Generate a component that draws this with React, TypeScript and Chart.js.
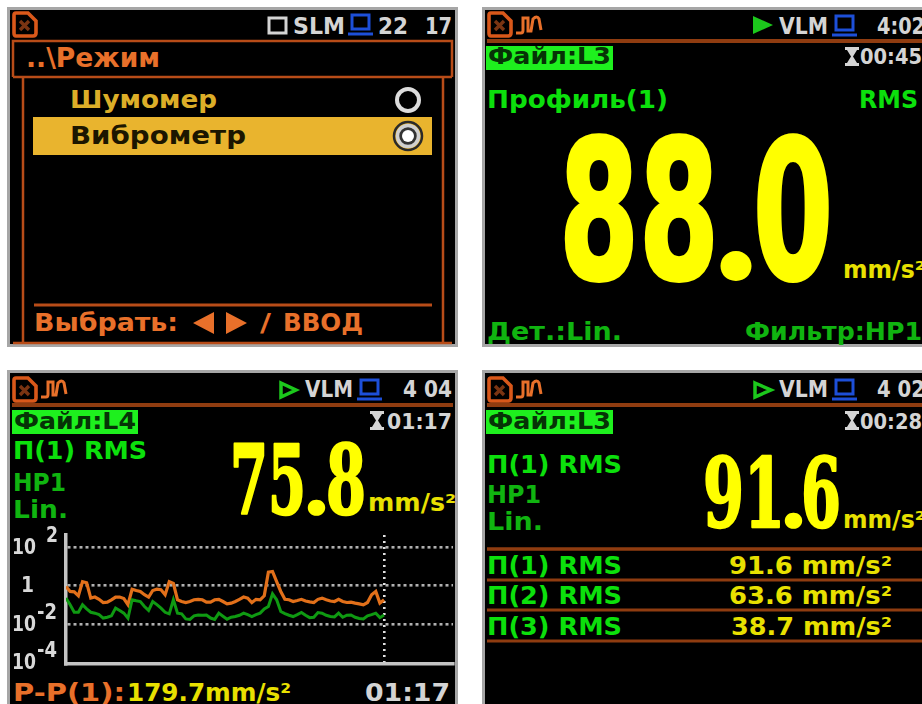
import React, { useEffect, useRef } from "react";
import { Chart, registerables } from "chart.js";

Chart.register(...registerables);

const W = 922;
const H = 704;

// Trend: one sample per second, mm/s²
const seconds = Array.from({ length: 78 }, (_, i) => i);
const peakValues = [
  0.89, 0.49, 0.47, 0.29, 1.6, 1.4, 0.22, 0.25, 0.19, 0.13, 0.135, 0.18, 0.25, 0.25, 0.21, 0.1,
  0.64, 0.55, 0.49, 0.33, 0.25, 0.55, 0.64, 0.6, 0.33, 1.6, 1.3, 0.18, 0.146, 0.13, 0.146, 0.18,
  0.19, 0.18, 0.135, 0.135, 0.18, 0.19, 0.146, 0.11, 0.12, 0.146, 0.19, 0.25, 0.22, 0.13, 0.19, 0.18,
  0.29, 5.0, 5.4, 1.6, 0.49, 0.19, 0.18, 0.146, 0.165, 0.19, 0.155, 0.14, 0.13, 0.19, 0.22, 0.18,
  0.155, 0.146, 0.19, 0.146, 0.13, 0.135, 0.12, 0.11, 0.098, 0.13, 0.33, 0.49, 0.12, 0.18,
];
const rmsValues = [
  0.22, 0.098, 0.04, 0.04, 0.1, 0.06, 0.04, 0.036, 0.03, 0.02, 0.022, 0.026, 0.066, 0.05, 0.036, 0.0196,
  0.18, 0.16, 0.146, 0.08, 0.05, 0.146, 0.1, 0.066, 0.04, 0.033, 0.18, 0.036, 0.033, 0.018, 0.017, 0.026,
  0.029, 0.028, 0.029, 0.02, 0.017, 0.036, 0.025, 0.0175, 0.022, 0.024, 0.028, 0.036, 0.03, 0.024, 0.03, 0.036,
  0.06, 0.08, 0.37, 0.18, 0.044, 0.034, 0.028, 0.024, 0.03, 0.039, 0.028, 0.021, 0.022, 0.039, 0.036, 0.028,
  0.024, 0.023, 0.036, 0.022, 0.028, 0.029, 0.022, 0.019, 0.018, 0.026, 0.03, 0.036, 0.021, 0.029,
];
const tickValues = [100, 1, 0.01, 0.0001];
const tickBases = ["10", "1", "10", "10"];
const tickExponents = ["2", "", "-2", "-4"];
const cursorSecond = 77;

const ORANGE = "#e8702a";
const BROWN = "#8f3c10";
const GREEN = "#0ce00c";
const DIMGREEN = "#10b410";
const YELLOW = "#ffff00";
const SOFTYELLOW = "#e8e000";
const GREY = "#d4d4d4";
const BLUE = "#1d4fd8";

type Label = [string, number, number, number, number, string];
// text, left, right, baseline, font size, colour
const labels: Label[] = [
  ["SLM", 293, 345, 34, 23, GREY],
  ["22", 378, 408, 34, 23, GREY],
  ["17", 425, 452, 34, 23, GREY],
  ["..\\Режим", 26, 160, 67, 26, ORANGE],
  ["Шумомер", 70, 217, 108, 25, "#dcae28"],
  ["Виброметр", 70, 246, 144, 25, "#1c1600"],
  ["Выбрать:", 34, 178, 331, 25, ORANGE],
  ["/", 260, 271, 331, 25, ORANGE],
  ["ВВОД", 283, 363, 331, 25, ORANGE],

  ["VLM", 779, 828, 34, 23, GREY],
  ["4:02", 877, 925, 34, 23, GREY],
  ["Файл:L3", 488, 611, 64, 23, "#063306"],
  ["00:45", 860, 922, 64, 22, GREY],
  ["Профиль(1)", 487, 668, 108, 25, GREEN],
  ["RMS", 859, 918, 108, 25, GREEN],
  ["mm/s²", 843, 925, 278, 24, SOFTYELLOW],
  ["Дет.:Lin.", 487, 622, 340, 25, DIMGREEN],
  ["Фильтр:HP1", 745, 922, 340, 25, DIMGREEN],

  ["VLM", 305, 353, 397, 23, GREY],
  ["4 04", 403, 452, 397, 23, GREY],
  ["Файл:L4", 14, 136, 429, 23, "#063306"],
  ["01:17", 387, 452, 429, 22, GREY],
  ["П(1) RMS", 13, 147, 459, 25, GREEN],
  ["HP1", 13, 66, 491, 25, DIMGREEN],
  ["Lin.", 13, 68, 518, 25, DIMGREEN],
  ["mm/s²", 368, 456, 511, 24, SOFTYELLOW],
  ["P-P(1):", 13, 125, 701, 25, ORANGE],
  ["179.7mm/s²", 127, 291, 701, 25, SOFTYELLOW],
  ["01:17", 365, 450, 701, 25, GREY],

  ["VLM", 779, 828, 397, 23, GREY],
  ["4 02", 877, 925, 397, 23, GREY],
  ["Файл:L3", 488, 611, 429, 23, "#063306"],
  ["00:28", 860, 922, 429, 22, GREY],
  ["П(1) RMS", 487, 622, 473, 25, GREEN],
  ["HP1", 487, 541, 503, 25, DIMGREEN],
  ["Lin.", 487, 543, 530, 25, DIMGREEN],
  ["mm/s²", 843, 925, 528, 24, SOFTYELLOW],
  ["П(1) RMS", 487, 622, 574, 25, GREEN],
  ["91.6 mm/s²", 729, 892, 574, 25, SOFTYELLOW],
  ["П(2) RMS", 487, 622, 604, 25, GREEN],
  ["63.6 mm/s²", 729, 892, 604, 25, SOFTYELLOW],
  ["П(3) RMS", 487, 622, 635, 25, GREEN],
  ["38.7 mm/s²", 731, 892, 635, 25, SOFTYELLOW],
];

// whole part, decimal part, then spans: whole left/right, dot left/right, decimal left/right,
// baseline, digit size, dot size, outline, family
type BigValue = [string, string, number, number, number, number, number, number, number, number, number, number, string];
const bigValues: BigValue[] = [
  ["88", "0", 559, 719, 715, 757, 753, 833, 278, 193, 172, 4, "DejaVu Sans"],
  ["75", "8", 230, 306, 305, 328, 326, 366, 514, 96, 90, 2.5, "DejaVu Serif"],
  ["91", "6", 703, 785, 782, 805, 801, 841, 527, 96, 90, 2.5, "DejaVu Serif"],
];

function SdIcon({ x, y }: { x: number; y: number }) {
  return (
    <g transform={`translate(${x} ${y})`} fill="none" stroke="#d9581a">
      <path d="M3 1 H15 L23 9 V21 Q23 24 20 24 H3 Q1 24 1 21 V3 Q1 1 3 1 Z" strokeWidth={3.6} />
      <path d="M7 9 L16 18 M16 9 L7 18" strokeWidth={3.4} stroke="#7a3412" />
    </g>
  );
}
function WaveIcon({ x, y }: { x: number; y: number }) {
  return (
    <path
      transform={`translate(${x} ${y})`}
      d="M0 17 H5 Q7 17 7 14 V2 H12 V15 H15 L17 3 Q21 -1 23 3 L25 14"
      fill="none"
      stroke="#e8702a"
      strokeWidth={3}
    />
  );
}
function MonitorIcon({ x, y }: { x: number; y: number }) {
  return (
    <g transform={`translate(${x} ${y})`} fill="none" stroke={BLUE}>
      <rect x={4} y={2} width={17} height={14} strokeWidth={3} />
      <path d="M0 21 H25" strokeWidth={3} />
    </g>
  );
}
function Hourglass({ x, y }: { x: number; y: number }) {
  return (
    <g transform={`translate(${x} ${y})`} fill={GREY}>
      <rect x={0} y={0} width={14} height={3} />
      <rect x={0} y={16} width={14} height={3} />
      <path d="M2 3 H12 L8 9.5 L12 16 H2 L6 9.5 Z" />
    </g>
  );
}
function Radio({ x, y, on }: { x: number; y: number; on?: boolean }) {
  return (
    <g>
      <circle cx={x} cy={y} r={on ? 14 : 11} fill="none" stroke={on ? "#2a2a2a" : "#dcdcdc"} strokeWidth={on ? 2.5 : 4} />
      {on && <circle cx={x} cy={y} r={10.5} fill="#333" stroke="#d0d0d0" strokeWidth={3.5} />}
      {on && <circle cx={x} cy={y} r={6} fill="#ffffff" />}
    </g>
  );
}
function Rule({ x1, x2, y, c = BROWN, w = 3 }: { x1: number; x2: number; y: number; c?: string; w?: number }) {
  return <line x1={x1} x2={x2} y1={y} y2={y} stroke={c} strokeWidth={w} />;
}
function Panel({ x, y, w, h }: { x: number; y: number; w: number; h: number }) {
  return <rect x={x + 1.5} y={y + 1.5} width={w - 3} height={h - 3} fill="#000" stroke="#a6a6a6" strokeWidth={3} />;
}

export default function App() {
  const canvasRef = useRef<HTMLCanvasElement | null>(null);

  useEffect(() => {
    const canvas = canvasRef.current;
    if (!canvas) return;
    const tickLabelPlugin = {
      id: "tickLabelPlugin",
      afterDraw(chart: any) {
        const { ctx } = chart;
        const yScale = chart.scales.y;
        ctx.save();
        ctx.fillStyle = "#d8d8d8";
        ctx.textBaseline = "middle";
        ctx.font = "bold 22px 'DejaVu Sans'";
        tickValues.forEach((v, i) => {
          const py = yScale.getPixelForValue(v);
          if (tickBases[i] === "1") {
            ctx.fillText(tickBases[i], 21, py + 1, 13);
            return;
          }
          ctx.fillText(tickBases[i], 12, py + 1, 24);
          const exp = tickExponents[i];
          const left = exp.length > 1 ? 37 : 46;
          ctx.fillText(exp, left, py - 11, exp.length > 1 ? 20 : 12);
        });
        ctx.restore();
      },
    };
    const chart = new Chart(canvas, {
      type: "line",
      data: {
        labels: seconds,
        datasets: [
          {
            label: "RMS",
            data: seconds.map((s, i) => ({ x: s, y: rmsValues[i] })),
            borderColor: "#0f9a12",
            borderWidth: 3,
            pointRadius: 0,
            tension: 0,
          },
          {
            label: "P-P",
            data: seconds.map((s, i) => ({ x: s, y: peakValues[i] })),
            borderColor: "#e2701a",
            borderWidth: 3.2,
            pointRadius: 0,
            tension: 0,
          },
        ],
      },
      options: {
        animation: false,
        responsive: false,
        maintainAspectRatio: false,
        layout: { padding: { left: 66, top: 535, right: W - 453, bottom: H - 664 } },
        plugins: { legend: { display: false }, tooltip: { enabled: false } },
        scales: {
          x: {
            type: "linear",
            min: 0,
            max: 93.7,
            afterBuildTicks(axis: any) {
              axis.ticks = [{ value: cursorSecond }];
            },
            ticks: { display: false },
            grid: { color: "#e0e0e0", lineWidth: 2.6, drawTicks: false },
            border: { color: "#c4c4c4", width: 3.5, dash: [2, 4] },
          },
          y: {
            type: "logarithmic",
            min: Math.pow(10, -4.1),
            max: Math.pow(10, 2.64),
            afterBuildTicks(axis: any) {
              axis.ticks = tickValues.map((value) => ({ value }));
            },
            ticks: { display: false },
            grid: {
              color: (ctx: any) => (ctx.tick && ctx.tick.value === 0.0001 ? "rgba(0,0,0,0)" : "#b0b0b0"),
              lineWidth: 2.6,
              drawTicks: false,
            },
            border: { color: "#c4c4c4", width: 3.5, dash: [3, 3] },
          },
        },
      },
      plugins: [tickLabelPlugin],
    } as any);
    return () => chart.destroy();
  }, []);

  return (
    <div
      style={{
        position: "absolute",
        left: 0,
        top: 0,
        width: W,
        height: H,
        overflow: "hidden",
        background: "#fff",
        filter: "blur(0.75px)",
      }}
    >
      <svg width={W} height={H} style={{ position: "absolute", left: 0, top: 0 }}>
        <Panel x={7} y={7} w={451} h={340} />
        <Panel x={482} y={7} w={450} h={340} />
        <Panel x={7} y={370} w={451} h={350} />
        <Panel x={482} y={370} w={450} h={350} />

        {/* top-left screen */}
        <SdIcon x={13} y={12} />
        <rect x={269} y={18} width={17} height={15} fill="none" stroke={GREY} strokeWidth={3} />
        <MonitorIcon x={348} y={13} />
        <path d="M13 77 V41 H452 V77 M13 77 H452" fill="none" stroke="#b84c18" strokeWidth={2.5} />
        <path d="M23 77 V344 M443 77 V344 M13 343 H452" fill="none" stroke="#b84c18" strokeWidth={2.5} />
        <rect x={33} y={117} width={399} height={38} fill="#e9b42e" />
        <Radio x={408} y={100} />
        <Radio x={408} y={136} on />
        <Rule x1={34} x2={432} y={305} c="#b84c18" />
        <path d="M193 323 L214 312 V334 Z M247 323 L226 312 V334 Z" fill={ORANGE} />

        {/* top-right screen */}
        <SdIcon x={488} y={12} />
        <WaveIcon x={516} y={16} />
        <path d="M753 16 L773 25 L753 34 Z" fill="#1cc81c" />
        <MonitorIcon x={832} y={14} />
        <Rule x1={487} x2={922} y={41} w={4} />
        <rect x={486} y={46} width={127} height={24} fill="#1ef01e" />
        <Hourglass x={845} y={47} />

        {/* bottom-left screen */}
        <SdIcon x={13} y={377} />
        <WaveIcon x={41} y={380} />
        <path d="M281 383 L296 390 L281 397 Z" fill="none" stroke="#1cc81c" strokeWidth={3.5} />
        <MonitorIcon x={357} y={378} />
        <Rule x1={12} x2={453} y={405} w={4} />
        <rect x={12} y={410} width={126} height={24} fill="#1ef01e" />
        <Hourglass x={370} y={411} />

        {/* bottom-right screen */}
        <SdIcon x={488} y={377} />
        <WaveIcon x={516} y={380} />
        <path d="M755 383 L771 390 L755 397 Z" fill="none" stroke="#1cc81c" strokeWidth={3.5} />
        <MonitorIcon x={832} y={378} />
        <Rule x1={487} x2={922} y={405} w={4} />
        <rect x={486} y={410} width={127} height={24} fill="#1ef01e" />
        <Hourglass x={845} y={411} />
        <Rule x1={487} x2={922} y={549} w={3.5} />
        <Rule x1={487} x2={922} y={580} />
        <Rule x1={487} x2={922} y={610} />
        <Rule x1={487} x2={922} y={641} />

        {labels.map(([text, left, right, base, size, color], i) => (
          <text
            key={i}
            x={left}
            y={base}
            fontSize={size}
            fontWeight={700}
            fontFamily="'DejaVu Sans'"
            fill={color}
            textLength={right - left}
            lengthAdjust="spacingAndGlyphs"
          >
            {text}
          </text>
        ))}

        {bigValues.map(([whole, dec, l1, r1, l2, r2, l3, r3, base, size, dotSize, outline, family], i) => (
          <text
            key={`big${i}`}
            y={base}
            fontWeight={700}
            fontFamily={`'${family}'`}
            fill={YELLOW}
            stroke={YELLOW}
            strokeWidth={outline}
            strokeLinejoin="round"
          >
            <tspan x={l1} fontSize={size} textLength={r1 - l1} lengthAdjust="spacingAndGlyphs">
              {whole}
            </tspan>
            <tspan x={l2} fontSize={dotSize} fontFamily="Lato" textLength={r2 - l2} lengthAdjust="spacingAndGlyphs">
              .
            </tspan>
            <tspan x={l3} fontSize={size} textLength={r3 - l3} lengthAdjust="spacingAndGlyphs">
              {dec}
            </tspan>
          </text>
        ))}
      </svg>
      <canvas ref={canvasRef} width={W} height={H} style={{ position: "absolute", left: 0, top: 0 }} />
    </div>
  );
}
